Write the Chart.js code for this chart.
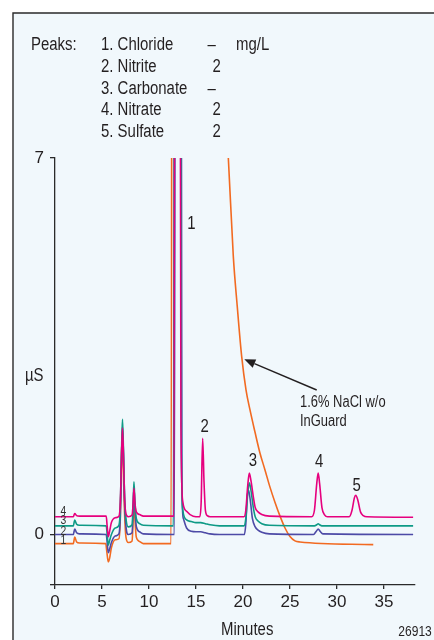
<!DOCTYPE html>
<html><head><meta charset="utf-8">
<script src="https://cdn.jsdelivr.net/npm/chart.js@4"></script>
<style>html,body{margin:0;padding:0;background:#fff}#wrap{width:434px;height:640px}</style>
</head><body><div id="wrap"><canvas id="c" width="434" height="640"></canvas></div>
<script>
const FONT = "'Liberation Sans Narrow','Arial Narrow','Liberation Sans',Arial,sans-serif";
const SQUEEZE = 0.83; // horizontal condensing for the annotation text

// x ticks (minutes) and y ticks (µS)
const xTicks = [0, 5, 10, 15, 20, 25, 30, 35];
const yTicks = [-0.94, 0, 7];
const yTickLabels = ["", "0", "7"];

// peak table
const peakNames = ["1. Chloride", "2. Nitrite", "3. Carbonate", "4. Nitrate", "5. Sulfate"];
const peakConc = ["–", "2", "–", "2", "2"];

// series: [minutes, µS]
const trace4 = [[0,0.33],[1.95,0.33],[2.1,0.39],[2.3,0.35],[2.6,0.34],[5.45,0.34],[5.55,0.15],[5.67,-0.04],[5.8,0.05],[6.0,0.22],[6.4,0.31],[6.8,0.34],[6.95,0.6],[7.1,1.6],[7.18,1.98],[7.28,1.5],[7.4,0.7],[7.55,0.38],[7.8,0.33],[8.2,0.36],[8.32,0.6],[8.4,0.86],[8.5,0.6],[8.65,0.42],[9.0,0.37],[9.4,0.34],[12.65,0.34],[12.8,20],[13.2,20],[13.4,2],[13.6,0.6],[14.0,0.43],[14.7,0.34],[15.4,0.33],[15.55,0.6],[15.71,1.79],[15.85,1.0],[16.0,0.45],[16.2,0.35],[16.5,0.33],[20.1,0.33],[20.3,0.45],[20.5,0.9],[20.67,1.14],[20.85,1.0],[21.1,0.7],[21.3,0.5],[21.6,0.42],[22.0,0.37],[22.8,0.34],[27.3,0.33],[27.6,0.45],[27.85,0.95],[28.0,1.14],[28.15,0.95],[28.4,0.5],[28.7,0.36],[29.0,0.33],[31.3,0.33],[31.6,0.45],[31.85,0.68],[32.0,0.73],[32.2,0.65],[32.5,0.42],[32.8,0.35],[33.2,0.33],[38.1,0.32]];
const trace3 = [[0,0.16],[1.95,0.16],[2.1,0.27],[2.3,0.19],[2.6,0.17],[5.45,0.16],[5.55,0.0],[5.67,-0.2],[5.8,-0.12],[6.0,0.0],[6.4,0.12],[6.8,0.17],[6.95,0.5],[7.1,1.7],[7.18,2.14],[7.28,1.6],[7.4,0.7],[7.55,0.3],[7.8,0.14],[8.2,0.18],[8.32,0.6],[8.4,0.98],[8.5,0.6],[8.65,0.3],[9.0,0.2],[9.4,0.17],[12.6,0.16],[12.75,20],[13.25,20],[13.45,1.5],[13.6,0.45],[14.0,0.27],[14.5,0.24],[15.0,0.22],[15.5,0.22],[16.0,0.2],[16.5,0.18],[17.5,0.16],[20.1,0.16],[20.3,0.3],[20.5,0.75],[20.67,0.96],[20.85,0.82],[21.1,0.5],[21.3,0.33],[21.6,0.25],[22.0,0.2],[22.8,0.17],[27.6,0.16],[27.85,0.18],[28.0,0.2],[28.15,0.18],[28.4,0.16],[38.1,0.16]];
const trace2 = [[0,0],[1.95,0],[2.1,0.1],[2.3,0.03],[2.6,0.01],[5.45,0],[5.55,-0.15],[5.67,-0.34],[5.8,-0.28],[6.0,-0.15],[6.4,-0.03],[6.8,0.01],[6.95,0.35],[7.1,1.6],[7.18,2.0],[7.28,1.5],[7.4,0.6],[7.55,0.15],[7.8,0.0],[8.2,0.03],[8.32,0.5],[8.4,0.88],[8.5,0.5],[8.65,0.15],[9.0,0.05],[9.4,0.01],[12.7,0],[12.85,20],[13.35,20],[13.5,1.0],[13.65,0.3],[14.0,0.12],[14.5,0.06],[15.0,0.05],[15.5,0.05],[16.0,0.03],[16.5,0.01],[17.5,0],[20.15,0],[20.3,0.2],[20.45,0.7],[20.6,0.82],[20.8,0.6],[21.0,0.3],[21.3,0.14],[21.6,0.08],[22.0,0.04],[22.8,0.01],[27.5,0],[27.8,0.06],[28.0,0.1],[28.2,0.06],[28.5,0.01],[38.1,0]];
const trace1 = [[0,-0.17],[1.95,-0.17],[2.1,-0.05],[2.3,-0.14],[2.6,-0.16],[5.4,-0.17],[5.5,-0.3],[5.67,-0.51],[5.8,-0.45],[6.0,-0.25],[6.4,-0.1],[6.8,-0.08],[6.95,0.3],[7.08,1.5],[7.15,1.83],[7.25,1.3],[7.4,0.4],[7.55,-0.05],[7.8,-0.15],[8.2,-0.12],[8.32,0.3],[8.4,0.64],[8.5,0.3],[8.65,-0.05],[9.0,-0.13],[9.4,-0.17],[12.35,-0.17],[12.5,20],[18.0,20],[18.2,8.6],[18.44,7.0],[18.97,5.17],[19.39,4.24],[19.86,3.31],[20.32,2.69],[20.74,2.32],[21.28,1.9],[21.81,1.51],[22.34,1.2],[22.87,0.88],[23.4,0.6],[23.94,0.34],[24.47,0.12],[25.0,-0.04],[25.53,-0.12],[26.06,-0.14],[33.86,-0.19]];

const seriesNames = ["4", "3", "2", "1.6% NaCl w/o InGuard"];
const seriesColors = ["#E6007E", "#0E9A86", "#4D4AA6", "#F26A21"];

const toXY = a => a.map(p => ({x: p[0], y: p[1]}));

const TXT = "#231F20";
function txt(ctx, s, x, capCenter, size, align, color) {
  ctx.save();
  ctx.font = size + "px " + FONT;
  ctx.fillStyle = color || TXT;
  ctx.textAlign = align || "left";
  ctx.textBaseline = "alphabetic";
  ctx.translate(x, capCenter + 0.358 * size);
  ctx.scale(SQUEEZE, 1);
  ctx.fillText(s, 0, 0);
  ctx.restore();
}

const decor = {
  id: "decor",
  beforeDraw(chart) {
    const ctx = chart.ctx;
    ctx.save();
    ctx.fillStyle = "#ffffff";
    ctx.fillRect(0, 0, 434, 640);
    ctx.fillStyle = "#F1F8FC";
    ctx.fillRect(13, 13, 440, 640);
    ctx.strokeStyle = "#2a2a2a";
    ctx.lineWidth = 1.4;
    ctx.beginPath();
    ctx.moveTo(13, 660); ctx.lineTo(13, 13); ctx.lineTo(460, 13);
    ctx.stroke();
    ctx.restore();
  },
  afterDraw(chart) {
    const ctx = chart.ctx;
    const rows = [43.8, 65.5, 87.3, 109, 130.8];
    txt(ctx, "Peaks:", 31, rows[0], 18);
    peakNames.forEach((n, i) => {
      txt(ctx, n, 101, rows[i], 18);
      txt(ctx, peakConc[i], peakConc[i] === "–" ? 211.7 : 216.7, rows[i], 18, "center");
    });
    txt(ctx, "mg/L", 236, rows[0], 18);
    txt(ctx, "µS", 25, 375, 18);
    txt(ctx, "1", 191.3, 222.7, 18, "center");
    txt(ctx, "2", 204.7, 425.8, 18, "center");
    txt(ctx, "3", 252.8, 459.8, 18, "center");
    txt(ctx, "4", 319.2, 460.3, 18, "center");
    txt(ctx, "5", 356.7, 484.2, 18, "center");
    txt(ctx, "1.6% NaCl w/o", 300, 401.7, 15.6);
    txt(ctx, "InGuard", 300, 420, 15.6);
    txt(ctx, "Minutes", 247.2, 628.3, 18, "center");
    txt(ctx, "26913", 398.3, 630.8, 14.5);
    const small = [["4", 510.2], ["3", 519.5], ["2", 530.3], ["1", 539.7]];
    small.forEach(s => txt(ctx, s[0], 63.3, s[1], 12.5, "center", "#333"));
    // arrow
    ctx.save();
    const x0 = 316.7, y0 = 390, x1 = 244.3, y1 = 359.3;
    const ang = Math.atan2(y1 - y0, x1 - x0);
    const L = 11, W = 4.5;
    const bx = x1 - L * Math.cos(ang), by = y1 - L * Math.sin(ang);
    ctx.strokeStyle = TXT; ctx.fillStyle = TXT; ctx.lineWidth = 1.4;
    ctx.beginPath(); ctx.moveTo(x0, y0); ctx.lineTo(bx, by); ctx.stroke();
    ctx.beginPath();
    ctx.moveTo(x1, y1);
    ctx.lineTo(bx + W * Math.sin(ang), by - W * Math.cos(ang));
    ctx.lineTo(bx - W * Math.sin(ang), by + W * Math.cos(ang));
    ctx.closePath(); ctx.fill();
    ctx.restore();
  }
};

const traces = [trace4, trace3, trace2, trace1];
new Chart(document.getElementById("c"), {
  type: "line",
  data: {
    datasets: traces.map((t, i) => ({
      label: seriesNames[i],
      data: toXY(t),
      borderColor: seriesColors[i],
      backgroundColor: seriesColors[i],
      borderWidth: 1.6,
      pointRadius: 0,
      cubicInterpolationMode: "monotone",
      fill: false
    }))
  },
  options: {
    responsive: false,
    animation: false,
    events: [],
    layout: {padding: {left: 0, right: 19, top: 158, bottom: 0}},
    plugins: {legend: {display: false}, tooltip: {enabled: false}},
    scales: {
      x: {
        type: "linear", min: 0, max: 38.3,
        afterFit(s) { s.height = 55; },
        afterBuildTicks(s) { s.ticks = xTicks.map(v => ({value: v})); },
        ticks: {font: {family: FONT, size: 17}, color: TXT, padding: 3, maxRotation: 0, autoSkip: false, callback: v => String(v)},
        grid: {display: true, drawOnChartArea: false, drawTicks: true, tickLength: 4, color: "#2a2a2a", lineWidth: 1.3},
        border: {display: true, color: "#2a2a2a", width: 1.3}
      },
      y: {
        type: "linear", min: -0.94, max: 7,
        afterFit(s) { s.width = 55; },
        afterBuildTicks(s) { s.ticks = yTicks.map(v => ({value: v})); },
        ticks: {font: {family: FONT, size: 17}, color: TXT, padding: 6, autoSkip: false, callback: (v, i) => yTickLabels[i]},
        grid: {display: true, drawOnChartArea: false, drawTicks: true, tickLength: 5, color: "#2a2a2a", lineWidth: 1.3},
        border: {display: true, color: "#2a2a2a", width: 1.3}
      }
    }
  },
  plugins: [decor]
});
</script>
</body></html>
